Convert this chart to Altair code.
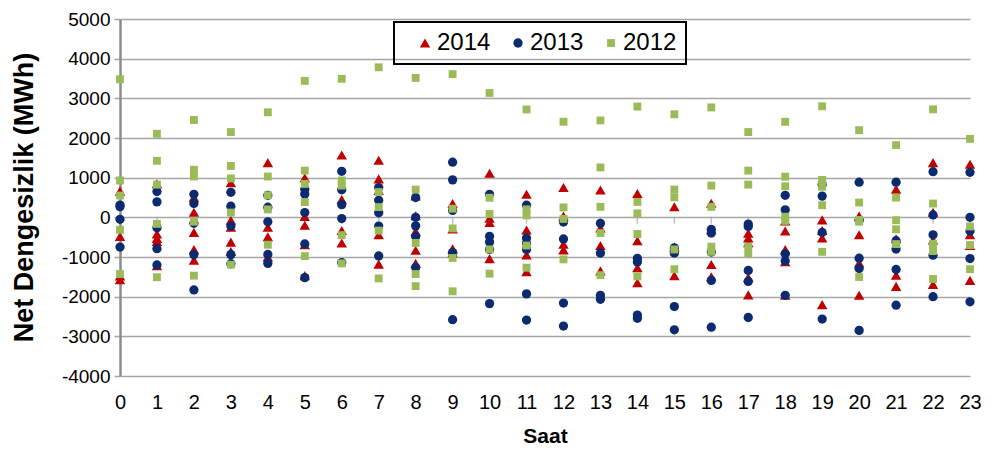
import altair as alt
import pandas as pd

hours = list(range(24))
series_names = ["2014", "2013", "2012"]
series_colors = ["#C00000", "#0B2A6F", "#9BBB59"]
series_shapes = ["triangle-up", "circle", "square"]
yticks = [-4000, -3000, -2000, -1000, 0, 1000, 2000, 3000, 4000, 5000]

v2014 = [
    [660, -480, -1480, -1570],
    [845, -420, -530, -610, -1220],
    [510, 130, -380, -810, -1080],
    [870, -75, -250, -625, -860],
    [1380, -250, -490, -1000],
    [1000, 20, -200, -690, -1470],
    [1570, 450, -330, -645],
    [1440, 970, 680, -440, -1180],
    [540, 40, -355, -830, -1160],
    [350, -290, -790, -900],
    [1110, -25, -130, -1040],
    [580, -320, -950, -1370],
    [750, 30, -680, -820],
    [690, -270, -710, -1350],
    [600, -590, -1270, -1650],
    [265, -750, -1470],
    [355, -310, -1190, -1500],
    [-400, -520, -640, -1515, -1955],
    [-90, -345, -815, -1120, -1965],
    [-65, -330, -520, -2200],
    [35, -440, -1150, -1965],
    [710, -540, -1460, -1740],
    [1380, 130, -570, -1690],
    [1340, -440, -710, -1590],
]

v2013 = [
    [310, 270, -50, -750],
    [650, 390, -260, -790, -1200],
    [580, 350, -150, -940, -1830],
    [630, 280, -220, -940, -1170],
    [555, 255, -112, -935, -1160],
    [710, 590, 120, -670, -1520],
    [1160, 695, 320, -30, -1140],
    [750, 430, 115, -220, -975],
    [500, 0, -215, -480, -1265],
    [1390, 945, 175, -890, -2580],
    [580, -480, -620, -810, -2175],
    [305, -520, -650, -810, -1930, -2590],
    [-120, -545, -2160, -2740],
    [-150, -900, -1965, -2065],
    [-1035, -1125, -2465, -2545],
    [-770, -900, -2250, -2835],
    [-305, -395, -875, -1590, -2770],
    [-170, -230, -1340, -1615, -2525],
    [555, 190, -920, -1100, -1965],
    [825, 535, -380, -2565],
    [885, -80, -1030, -1290, -2850],
    [885, -590, -800, -1315, -2215],
    [1150, 60, -440, -955, -2000],
    [1135, 0, -345, -1040, -2130],
]

v2012 = [
    [3480, 930, 550, -315, -1430],
    [2105, 1425, 825, -165, -1510],
    [2455, 1200, 1030, -110, -1470],
    [2150, 1295, 980, 120, -1195],
    [2648, 1028, 555, 200, -690],
    [3440, 1178, 843, 385, -978],
    [3492, 930, 800, -450, -1160],
    [3782, 638, 258, -335, -1540],
    [3515, 698, -645, -1430, -1735],
    [3610, 218, -280, -1025, -1865],
    [3135, 493, 85, -810, -1420],
    [2720, 200, 50, -710, -1270],
    [2410, 250, -40, -1060],
    [2443, 1258, 265, -398, -1458],
    [2793, 388, 100, -420, -1488],
    [2598, 700, 505, -810, -1308],
    [2770, 800, 263, -740, -870],
    [2150, 1178, 825, -732, -908],
    [2408, 1025, 783, 15, -88],
    [2800, 943, 770, 305, -870],
    [2198, 373, -65, -110, -1505],
    [1820, 498, -72, -300, -675],
    [2723, 348, -668, -850, -1555],
    [1978, -230, -700, -1307],
]

rows = []
for name, vals in zip(series_names, [v2014, v2013, v2012]):
    for h, lst in zip(hours, vals):
        for v in lst:
            rows.append({"Saat": h, "Deger": v, "Seri": name})
df = pd.DataFrame(rows)

NARROW = "Liberation Sans Narrow, Arial Narrow, Liberation Sans, Arial"
FONT = "Liberation Sans, Arial"
GRID = "#A6A6A6"

xscale = alt.Scale(domain=[0, 23], nice=False, zero=False)
yscale = alt.Scale(domain=[-4000, 5000], nice=False, zero=False)

xaxis = alt.Axis(values=hours, labelExpr="'' + datum.value", grid=False, domain=False,
                 ticks=False, labelOverlap=False, labelFlush=False, labelBound=False,
                 labelPadding=16, labelFontSize=20, labelFont=NARROW, labelColor="black",
                 title="Saat", titleFontSize=21, titleFont=NARROW, titleFontWeight="bold",
                 titleColor="black", titlePadding=13)

yaxis = alt.Axis(values=yticks, labelExpr="'' + datum.value", grid=True,
                 gridColor=GRID, gridWidth=1.5,
                 domain=True, domainColor="#8C8C8C", domainWidth=2.5,
                 ticks=True, tickSize=6, tickColor=GRID, tickWidth=1.5,
                 labelPadding=4, labelFontSize=19, labelFont=NARROW, labelColor="black",
                 labelOverlap=False, labelBound=False, labelFlush=False,
                 title="Net Dengesizlik (MWh)", titleFontSize=27, titleFont=FONT,
                 titleFontWeight="bold", titleColor="black",
                 titleX=-88, titleY=178, titleBaseline="alphabetic")

points = alt.Chart(df).mark_point(filled=True, opacity=1, strokeWidth=0).encode(
    x=alt.X("Saat:Q", scale=xscale, axis=xaxis),
    y=alt.Y("Deger:Q", scale=yscale, axis=yaxis),
    color=alt.Color("Seri:N", scale=alt.Scale(domain=series_names, range=series_colors),
                    legend=alt.Legend(title=None, orient="none", legendX=274, legendY=3,
                                      direction="horizontal")),
    shape=alt.Shape("Seri:N", scale=alt.Scale(domain=series_names, range=series_shapes)),
    size=alt.Size("Seri:N", scale=alt.Scale(domain=series_names, range=[110, 62, 45])),
)

tickdf = pd.DataFrame({"Saat": hours, "z": [0] * len(hours)})
xticks = alt.Chart(tickdf).mark_tick(orient="vertical", size=7, yOffset=3, thickness=1.5,
                                     color=GRID).encode(
    x=alt.X("Saat:Q", scale=xscale, axis=xaxis),
    y=alt.Y("z:Q", scale=yscale, axis=yaxis),
)

chart = alt.layer(xticks, points).properties(
    width=850, height=357,
    autosize=alt.AutoSizeParams(type="none"),
    padding={"left": 112, "top": 11, "right": 13, "bottom": 70},
).configure_view(stroke=None).configure_legend(
    strokeColor="black", strokeWidth=2, padding=9, labelFontSize=24, labelFont=NARROW,
    labelColor="black", columnPadding=5, symbolOffset=10, labelOffset=0,
)

chart.save("out.html", embed_options={"renderer": "svg", "actions": False})
